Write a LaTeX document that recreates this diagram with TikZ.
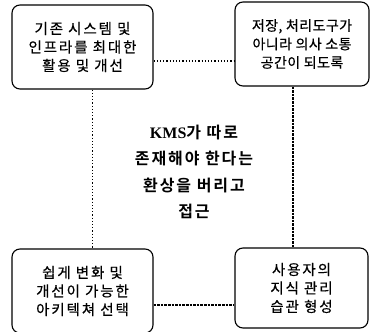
\documentclass[tikz,border=0pt]{standalone}
\usepackage{fontspec}
\usepackage{tikz}
\newfontfamily\kr[LetterSpace=13,FakeBold=0.5]{Noto Sans CJK KR}
\newfontfamily\krtight[LetterSpace=3,FakeBold=0.5]{Noto Sans CJK KR}
\newfontfamily\krbold[LetterSpace=12]{Noto Sans CJK KR Bold}
\newfontfamily\latinserif{Liberation Serif}

\begin{document}
\begin{tikzpicture}[x=1pt, y=-1pt,
    box/.style={draw, line width=1.1pt, rounded corners=8pt, align=center, inner sep=0pt,
        minimum height=84pt, font=\kr\fontsize{14.5}{18.5}\selectfont},
    thinlink/.style={dotted, line width=1.2pt},
    thicklink/.style={densely dotted, line width=2.6pt}]
    \useasboundingbox (0,0) rectangle (370,332);
    % Four corner boxes
    \node[box, minimum width=141pt] (reuse) at (82.5,47) {기존 시스템 및\\인프라를 최대한\\활용 및 개선};
    \node[box, minimum width=134pt, font=\krtight\fontsize{14}{18.5}\selectfont] (space) at (302,44) {저장, 처리도구가\\아니라 의사 소통\\공간이 되도록};
    \node[box, minimum width=141pt] (arch) at (82.5,291) {쉽게 변화 및\\개선이 가능한\\아키텍쳐 선택};
    \node[box, minimum width=133pt, minimum height=80pt] (habit) at (301.5,288) {사용자의\\지식 관리\\습관 형성};
    % Centre message
    \node[align=center, font=\krbold\fontsize{16}{26.5}\selectfont] (core) at (194,172)
        {{\latinserif\bfseries KMS}가 따로\\존재해야 한다는\\환상을 버리고\\접근};
    % Links between boxes
    \draw[thinlink] ([yshift=-14pt]reuse.east) -- ([yshift=-14pt]reuse.east -| space.west);
    \draw[thinlink] ([xshift=10pt]reuse.south) -- ([xshift=10pt]reuse.south |- arch.north);
    \draw[thicklink] ([xshift=-9pt]space.south) -- ([xshift=-9pt]space.south |- habit.north);
    \draw[thicklink] ([yshift=-14pt]arch.east) -- ([yshift=-14pt]arch.east -| habit.west);
\end{tikzpicture}
\end{document}
